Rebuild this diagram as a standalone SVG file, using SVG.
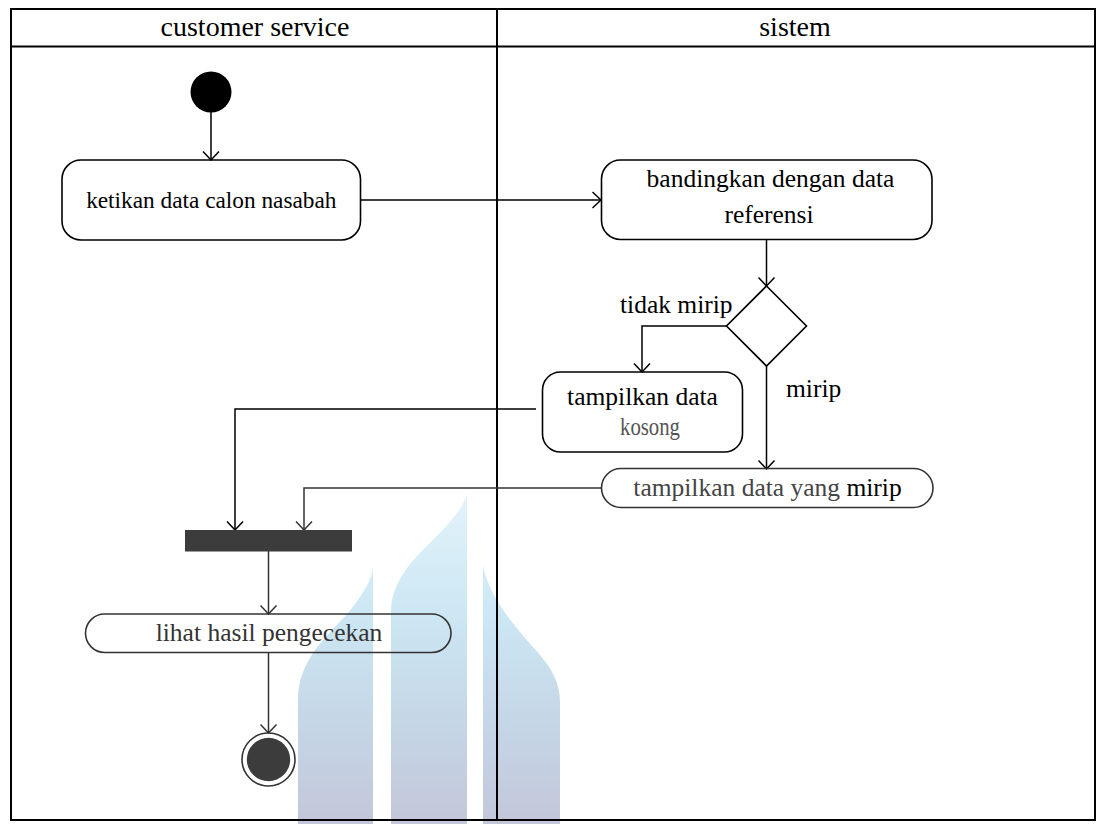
<svg xmlns="http://www.w3.org/2000/svg" width="1099" height="824" viewBox="0 0 1099 824">
<style>
text{font-family:'Liberation Serif',Tinos,'Times New Roman',Times,'Noto Serif','DejaVu Serif',FreeSerif,serif;fill:#000}
.lbl{font-size:25.5px}
.hdr{font-size:28px;text-anchor:middle}
.node{fill:none;stroke:#000;stroke-width:1.6}
.conn{fill:none;stroke:#000;stroke-width:1.5}
.dk{stroke:#333}
.frame{fill:none;stroke:#000;stroke-width:2}
</style>
<defs>
<linearGradient id="wm" x1="0" y1="490" x2="0" y2="824" gradientUnits="userSpaceOnUse">
<stop offset="0" stop-color="#e4f3fa"/>
<stop offset="0.35" stop-color="#cde8f4"/>
<stop offset="0.7" stop-color="#c5d6e6"/>
<stop offset="1" stop-color="#c2c7d9"/>
</linearGradient>
<marker id="arr" viewBox="0 0 10 18" refX="9.5" refY="9" markerWidth="10" markerHeight="18" markerUnits="userSpaceOnUse" orient="auto">
<path d="M1,1 L9.5,9 L1,17" fill="none" stroke="#000" stroke-width="1.5"/>
</marker>
<marker id="arrd" viewBox="0 0 10 18" refX="9.5" refY="9" markerWidth="10" markerHeight="18" markerUnits="userSpaceOnUse" orient="auto">
<path d="M1,1 L9.5,9 L1,17" fill="none" stroke="#333" stroke-width="1.5"/>
</marker>
</defs>
<rect width="1099" height="824" fill="#fff"/>
<g id="watermark" fill="url(#wm)">
<path d="M298,824 V700 C298,655 335,630 352,608 C364,592 372,580 373,566 V824 Z"/>
<path d="M391,824 V612 C391,572 428,548 448,524 C459,511 466,502 467,492 V824 Z"/>
<path d="M483,566 C490,600 518,630 540,655 C553,670 560,685 560,702 V824 H483 Z"/>
</g>
<g id="swimlanes">
<rect class="frame" x="11" y="9" width="1084" height="811"/>
<line class="frame" x1="11" y1="46.5" x2="1095" y2="46.5"/>
<line class="frame" x1="497" y1="9" x2="497" y2="820"/>
<text class="hdr" x="255" y="36" font-family="Liberation Serif, serif">customer service</text>
<text class="hdr" x="795" y="36" font-family="Liberation Serif, serif">sistem</text>
</g>
<g id="connectors">
<line class="conn" x1="211" y1="112" x2="211" y2="160" marker-end="url(#arr)"/>
<line class="conn" x1="361" y1="200" x2="601" y2="200" marker-end="url(#arr)"/>
<line class="conn" x1="766.5" y1="240" x2="766.5" y2="286" marker-end="url(#arr)"/>
<polyline class="conn" points="726.5,326 642,326 642,372" marker-end="url(#arr)"/>
<line class="conn" x1="766.5" y1="366" x2="766.5" y2="469" marker-end="url(#arr)"/>
<polyline class="conn" points="536,409 235,409 235,530" marker-end="url(#arr)"/>
<polyline class="conn dk" points="601,488 304,488 304,530" marker-end="url(#arrd)"/>
<line class="conn dk" x1="268.5" y1="551" x2="268.5" y2="614" marker-end="url(#arrd)"/>
<line class="conn dk" x1="268.5" y1="652" x2="268.5" y2="733" marker-end="url(#arrd)"/>
<text class="lbl" x="620" y="313">tidak mirip</text>
<text class="lbl" x="786" y="397">mirip</text>
</g>
<g id="start">
<circle cx="211" cy="92" r="20.5" fill="#000"/>
</g>
<g id="ketikan">
<rect class="node" x="62" y="160" width="298.5" height="80" rx="19"/>
<text x="211.3" y="208" font-size="23.3" text-anchor="middle">ketikan data calon nasabah</text>
</g>
<g id="bandingkan">
<rect class="node" x="601.5" y="160" width="330.5" height="79.5" rx="19"/>
<text class="lbl" x="770.5" y="187" text-anchor="middle">bandingkan dengan data</text>
<text class="lbl" x="769" y="223" text-anchor="middle">referensi</text>
</g>
<g id="decision">
<polygon class="node" points="766.5,286 806.5,326 766.5,366 726.5,326"/>
</g>
<g id="kosong">
<rect class="node" x="542.5" y="372" width="200" height="80" rx="18"/>
<text class="lbl" x="642.5" y="405" text-anchor="middle">tampilkan data</text>
<text class="lbl" x="650" y="435" text-anchor="middle" style="fill:#555" textLength="60" lengthAdjust="spacingAndGlyphs">kosong</text>
</g>
<g id="mirip">
<rect class="node" x="601.5" y="468.5" width="331.5" height="39" rx="19.5" style="stroke:#333"/>
<text class="lbl" x="767.5" y="496" text-anchor="middle"><tspan style="fill:#444">tampilkan data yang</tspan> mirip</text>
</g>
<g id="join">
<rect x="185" y="530" width="167" height="21.5" fill="#3c3c3c"/>
</g>
<g id="lihat">
<rect class="node" x="85.5" y="614" width="365.5" height="38.5" rx="19.25" style="stroke:#333"/>
<text class="lbl" x="269" y="641" text-anchor="middle" style="fill:#333">lihat hasil pengecekan</text>
</g>
<g id="end">
<circle cx="268.5" cy="759.5" r="26.5" fill="none" stroke="#333" stroke-width="1.6"/>
<circle cx="268.5" cy="759.5" r="21.7" fill="#3c3c3c"/>
</g>
</svg>
